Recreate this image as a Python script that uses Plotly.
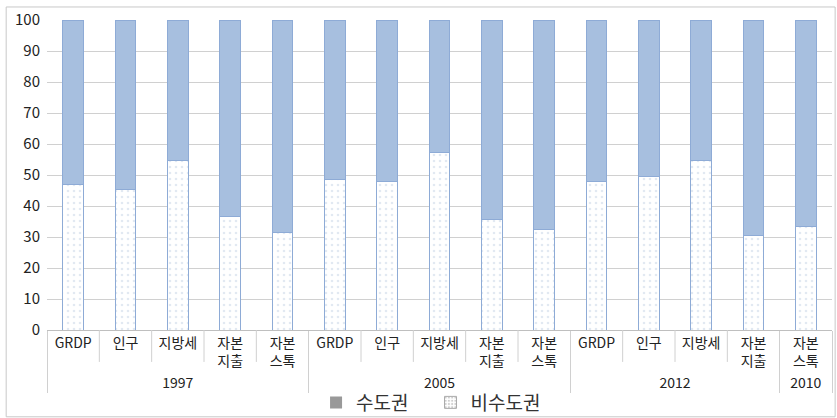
import plotly.graph_objects as go

# Group labels (year) and indicator names for each bar
years = ["1997"] * 5 + ["2005"] * 5 + ["2012"] * 4 + ["2010"]
indicators = ["GRDP", "인구", "지방세", "자본<br>지출", "자본<br>스톡",
              "GRDP", "인구", "지방세", "자본<br>지출", "자본<br>스톡",
              "GRDP", "인구", "지방세", "자본<br>지출",
              "자본<br>스톡"]

# Share of non-capital region (%); capital region is the remainder
non_capital = [46.8, 45.2, 54.8, 36.5, 31.3,
               48.4, 47.8, 57.4, 35.8, 32.3,
               47.8, 49.4, 54.8, 30.6,
               33.4]
capital = [round(100 - v, 1) for v in non_capital]

BLUE = "#a7bfdf"
BLUE_EDGE = "#8eabd6"
FONT = "Noto Sans CJK KR"

fig = go.Figure()

fig.add_trace(go.Bar(
    x=[years, indicators], y=non_capital, name="비수도권", showlegend=False,
    marker=dict(color="white", line=dict(color=BLUE_EDGE, width=1),
                pattern=dict(shape=".", fgcolor="#c5d3e6", bgcolor="white",
                             size=6, solidity=0.15)),
))
fig.add_trace(go.Bar(
    x=[years, indicators], y=capital, name="수도권", showlegend=False,
    marker=dict(color=BLUE, line=dict(color=BLUE_EDGE, width=1)),
))

# Legend entries (gray swatches); null values draw nothing on the plot
fig.add_trace(go.Bar(
    x=[years[:1], indicators[:1]], y=[None], name="수도권&nbsp;&nbsp;&nbsp;&nbsp;",
    marker=dict(color="#999999", line=dict(width=0)),
))
fig.add_trace(go.Bar(
    x=[years[:1], indicators[:1]], y=[None], name="비수도권",
    marker=dict(color="white", line=dict(color="#aaaaaa", width=1),
                pattern=dict(shape=".", fgcolor="#999999", bgcolor="white",
                             size=4, solidity=0.3)),
))

# Short separators between individual indicators within each year group
n = len(indicators)
shapes = []
for k in range(1, n):
    if years[k] == years[k - 1]:
        shapes.append(dict(type="line", xref="paper", yref="paper",
                           x0=k / n, x1=k / n, y0=0, y1=-0.103,
                           line=dict(color="#d0d0d0", width=1)))
# Outer chart border
shapes.append(dict(type="rect", xref="paper", yref="paper",
                   x0=-0.052, x1=1.004, y0=-0.28, y1=1.042,
                   line=dict(color="#c8c8c8", width=1), layer="below"))

fig.update_layout(
    barmode="stack",
    bargap=0.6,
    width=837, height=418,
    margin=dict(l=47, r=5, t=20, b=88, autoexpand=False),
    paper_bgcolor="white",
    plot_bgcolor="white",
    font=dict(family=FONT, color="#222222"),
    legend=dict(orientation="h", xref="container", yref="container",
                x=0.515, xanchor="center", y=0.037, yanchor="middle",
                bgcolor="rgba(0,0,0,0)",
                font=dict(size=19, color="#333333"),
                traceorder="normal", itemwidth=30),
    xaxis=dict(type="multicategory", showdividers=True, dividercolor="#d0d0d0",
               dividerwidth=1, tickfont=dict(size=14, color="#222222"),
               showline=True, linecolor="#bfbfbf", linewidth=1,
               showgrid=False),
    yaxis=dict(range=[0, 100], dtick=10, tickfont=dict(size=15, color="#222222"),
               showgrid=True, gridcolor="#d0d0d0", gridwidth=1,
               zeroline=False, showline=False, ticks="", ticklabelstandoff=6),
    shapes=shapes,
)

fig.write_html("out.html")
